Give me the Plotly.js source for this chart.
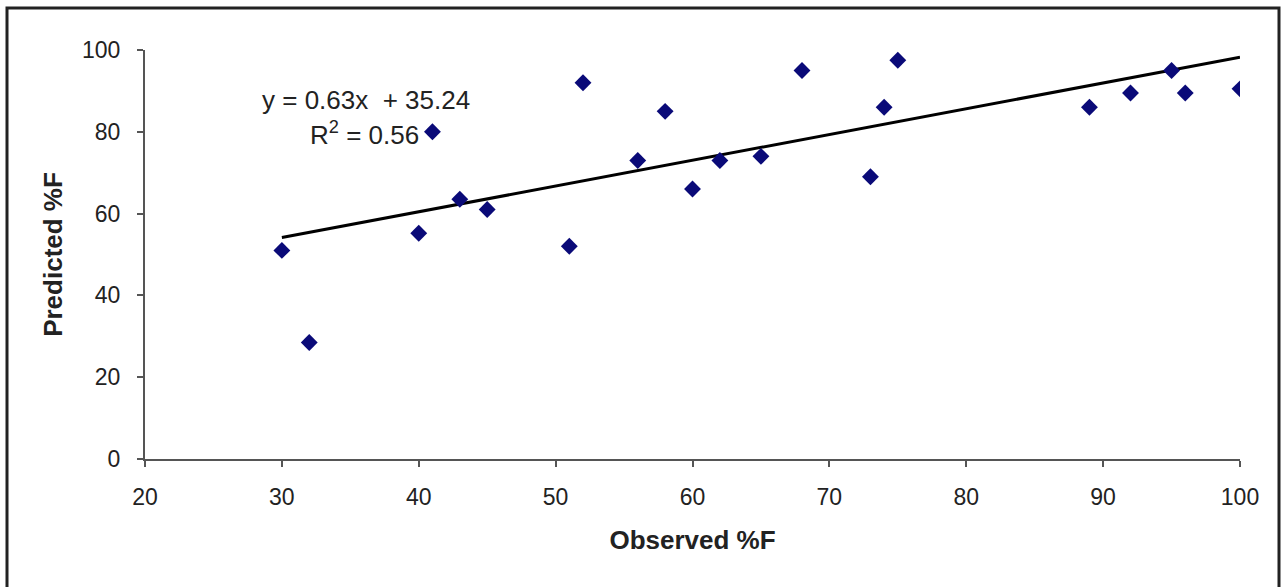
<!DOCTYPE html>
<html>
<head>
<meta charset="utf-8">
<script src="https://cdn.plot.ly/plotly-3.0.1.min.js"></script>
<style>html,body{margin:0;padding:0;background:#fff;}#chart{width:1282px;height:587px;}</style>
</head>
<body>
<div id="chart"></div>
<script>
const observed = [30, 32, 40, 41, 43, 45, 51, 52, 56, 58, 60, 62, 65, 68, 73, 74, 75, 89, 92, 95, 96, 100];
const predicted = [51, 28.5, 55.2, 80, 63.5, 61, 52, 92, 73, 85, 66, 73, 74, 95, 69, 86, 97.5, 86, 89.5, 95, 89.5, 90.5];
const slope = 0.63;
const intercept = 35.24;
const trendX = [30, 100];
const trendY = trendX.map(x => slope * x + intercept);
const xTicks = [20, 30, 40, 50, 60, 70, 80, 90, 100];
const yTicks = [0, 20, 40, 60, 80, 100];

const font = 'Liberation Sans, Arial, sans-serif';
const L = 145, R = 42, T = 50, B = 128, W = 1282, H = 587;
const pw = W - L - R, ph = H - T - B;
const px = v => (v - L) / pw;
const py = v => (H - B - v) / ph;

const data = [
  {x: trendX, y: trendY, mode: 'lines', line: {color: '#000', width: 3}, hoverinfo: 'skip'},
  {x: observed, y: predicted, mode: 'markers', marker: {symbol: 'diamond', size: 13, color: '#0a0a78'}}
];

const layout = {
  width: W, height: H,
  margin: {l: L, r: R, t: T, b: B, pad: 0},
  paper_bgcolor: '#fff', plot_bgcolor: '#fff',
  showlegend: false,
  font: {family: font, size: 24, color: '#222'},
  xaxis: {
    range: [20, 100], tickvals: xTicks, ticktext: xTicks.map(String),
    showgrid: false, zeroline: false, showline: true, linecolor: '#555', linewidth: 2,
    ticks: 'outside', ticklen: 6, tickcolor: '#555', tickwidth: 2, ticklabelstandoff: 10,
    tickfont: {family: font, size: 23, color: '#222'},
    title: {text: '<b>Observed %F</b>', font: {family: font, size: 26, color: '#222'}, standoff: 22}
  },
  yaxis: {
    range: [0, 100], tickvals: yTicks, ticktext: yTicks.map(String),
    showgrid: false, zeroline: false, showline: true, linecolor: '#555', linewidth: 2,
    ticks: 'outside', ticklen: 6, tickcolor: '#555', tickwidth: 2, ticklabelstandoff: 12,
    tickfont: {family: font, size: 23, color: '#222'},
    title: {text: '<b>Predicted %F</b>', font: {family: font, size: 26, color: '#222'}, standoff: 12}
  },
  annotations: [
    {xref: 'paper', yref: 'paper', x: px(366), y: py(100), text: 'y = 0.63x  + 35.24', showarrow: false, xanchor: 'center', yanchor: 'middle', font: {family: font, size: 26, color: '#222'}},
    {xref: 'paper', yref: 'paper', x: px(364), y: py(133), text: 'R<sup>2</sup> = 0.56', showarrow: false, xanchor: 'center', yanchor: 'middle', font: {family: font, size: 26, color: '#222'}}
  ],
  shapes: [
    {type: 'rect', xref: 'paper', yref: 'paper', x0: px(7), x1: px(1279), y0: py(620), y1: py(8), line: {color: '#222', width: 3}, fillcolor: 'rgba(0,0,0,0)', layer: 'above'}
  ]
};

Plotly.newPlot('chart', data, layout, {displayModeBar: false, staticPlot: true});
</script>
</body>
</html>
